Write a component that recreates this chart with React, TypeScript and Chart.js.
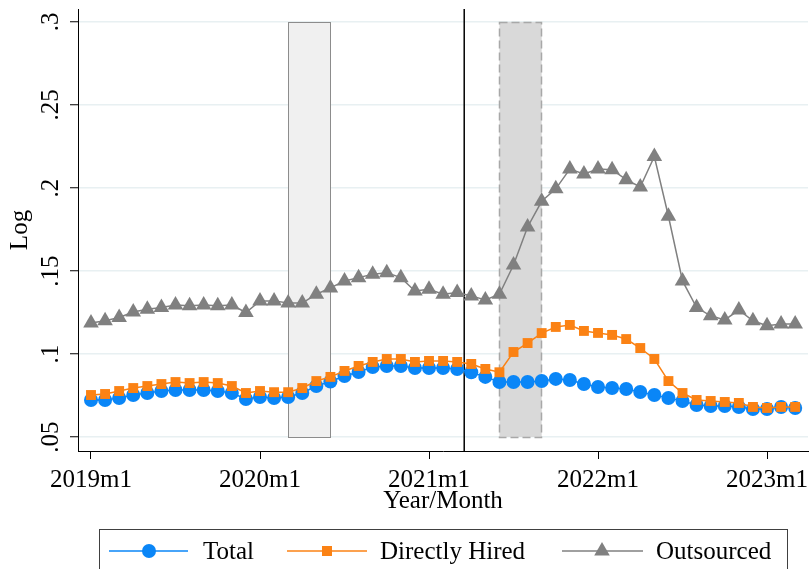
import React, { useEffect, useRef } from 'react';
import { Chart, registerables } from 'chart.js';

Chart.register(...registerables);

// Months 2019m1 .. 2023m3
const months = [
  '2019m1', '2019m2', '2019m3', '2019m4', '2019m5', '2019m6', '2019m7', '2019m8', '2019m9', '2019m10', '2019m11', '2019m12',
  '2020m1', '2020m2', '2020m3', '2020m4', '2020m5', '2020m6', '2020m7', '2020m8', '2020m9', '2020m10', '2020m11', '2020m12',
  '2021m1', '2021m2', '2021m3', '2021m4', '2021m5', '2021m6', '2021m7', '2021m8', '2021m9', '2021m10', '2021m11', '2021m12',
  '2022m1', '2022m2', '2022m3', '2022m4', '2022m5', '2022m6', '2022m7', '2022m8', '2022m9', '2022m10', '2022m11', '2022m12',
  '2023m1', '2023m2', '2023m3',
];

const total = [
  0.0723, 0.0723, 0.0735, 0.0753, 0.0765, 0.0777, 0.0783, 0.0783, 0.0783, 0.0777, 0.0765, 0.0729,
  0.0741, 0.0735, 0.0741, 0.0765, 0.0807, 0.0834, 0.0867, 0.0892, 0.0922, 0.0928, 0.0928, 0.0916,
  0.0916, 0.0916, 0.091, 0.089, 0.0862, 0.0831, 0.0831, 0.0831, 0.0837, 0.085, 0.0843, 0.0819,
  0.0801, 0.0795, 0.0789, 0.0771, 0.0753, 0.0735, 0.0717, 0.0693, 0.0687, 0.0687, 0.0681, 0.0669,
  0.0669, 0.0681, 0.0675,
];

const directlyHired = [
  0.0753, 0.0759, 0.0777, 0.0795, 0.0807, 0.0819, 0.0831, 0.0825, 0.0831, 0.0825, 0.0807, 0.0765,
  0.0777, 0.077, 0.077, 0.0795, 0.0837, 0.0862, 0.0898, 0.0928, 0.0952, 0.097, 0.097, 0.0952,
  0.0958, 0.0958, 0.0952, 0.094, 0.091, 0.089, 0.1012, 0.1066, 0.1126, 0.1163, 0.1175, 0.1139,
  0.1127, 0.1115, 0.109, 0.1036, 0.097, 0.0837, 0.0765, 0.0723, 0.0717, 0.0711, 0.0705, 0.0681,
  0.0675, 0.0681, 0.0681,
];

const outsourced = [
  0.1187, 0.12, 0.122, 0.1253, 0.127, 0.128, 0.1295, 0.129, 0.1295, 0.129, 0.1295, 0.125,
  0.132, 0.132, 0.1307, 0.1307, 0.136, 0.1398, 0.144, 0.146, 0.148, 0.149, 0.146, 0.138,
  0.139, 0.136, 0.137, 0.135, 0.1325, 0.136, 0.1536, 0.1765, 0.192, 0.1995, 0.2114, 0.2084,
  0.2114, 0.211, 0.205, 0.2006, 0.219, 0.183, 0.144, 0.128, 0.123, 0.1205, 0.1265, 0.12,
  0.117, 0.118, 0.118,
];

const xTickLabels = ['2019m1', '2020m1', '2021m1', '2022m1', '2023m1'];
const yTickValues = [0.05, 0.1, 0.15, 0.2, 0.25, 0.3];
const yTickLabels = ['.05', '.1', '.15', '.2', '.25', '.3'];

const lightBand = ['2020m3', '2020m6'];
const darkBand = ['2021m6', '2021m9'];
const bandRange = [0.05, 0.3];
const eventAfter = '2021m3'; // vertical line halfway between 2021m3 and 2021m4

const seriesNames = ['Total', 'Directly Hired', 'Outsourced'];
const BLUE = '#0a86f7';
const ORANGE = '#fb8214';
const GREY = '#808080';
const FONT = '"Liberation Serif", "Times New Roman", serif';

const idx = (m: string) => months.indexOf(m);

const drawMarker = (ctx: CanvasRenderingContext2D, kind: string, x: number, y: number, color: string) => {
  ctx.fillStyle = color;
  ctx.beginPath();
  if (kind === 'circle') {
    ctx.arc(x, y, 7, 0, Math.PI * 2);
  } else if (kind === 'rect') {
    ctx.rect(x - 5, y - 5, 10, 10);
  } else {
    const r = 9;
    for (let k = 0; k < 3; k++) {
      const a = (k * 2 * Math.PI) / 3;
      const px = x + Math.sin(a) * r;
      const py = y - Math.cos(a) * r;
      if (k === 0) ctx.moveTo(px, py);
      else ctx.lineTo(px, py);
    }
    ctx.closePath();
  }
  ctx.fill();
};

const overlayPlugin = {
  id: 'overlay',
  beforeDatasetsDraw(chart: any) {
    const { ctx, chartArea } = chart;
    const x = chart.scales.x;
    const y = chart.scales.y;
    const yTop = y.getPixelForValue(bandRange[1]);
    const yBot = y.getPixelForValue(bandRange[0]);
    ctx.save();
    // light band
    let x1 = x.getPixelForValue(idx(lightBand[0]));
    let x2 = x.getPixelForValue(idx(lightBand[1]));
    ctx.fillStyle = '#f0f0f0';
    ctx.fillRect(x1, yTop, x2 - x1, yBot - yTop);
    ctx.strokeStyle = '#8c8c8c';
    ctx.lineWidth = 1;
    ctx.strokeRect(Math.round(x1) + 0.5, Math.round(yTop) + 0.5, Math.round(x2 - x1), Math.round(yBot - yTop));
    // dark band
    x1 = x.getPixelForValue(idx(darkBand[0]));
    x2 = x.getPixelForValue(idx(darkBand[1]));
    ctx.fillStyle = '#d9d9d9';
    ctx.fillRect(x1, yTop, x2 - x1, yBot - yTop);
    ctx.strokeStyle = '#a8a8a8';
    ctx.lineWidth = 1.5;
    ctx.setLineDash([8, 4]);
    ctx.strokeRect(Math.round(x1) + 0.5, Math.round(yTop) + 0.5, Math.round(x2 - x1), Math.round(yBot - yTop));
    ctx.setLineDash([]);
    // vertical event line
    const xv = x.getPixelForValue(idx(eventAfter) + 0.5);
    ctx.strokeStyle = '#000';
    ctx.lineWidth = 1.5;
    ctx.beginPath();
    ctx.moveTo(xv, chartArea.top);
    ctx.lineTo(xv, chartArea.bottom);
    ctx.stroke();
    ctx.restore();
  },
  afterDraw(chart: any) {
    const { ctx } = chart;
    const y = chart.scales.y;
    ctx.save();
    // rotated y tick labels
    ctx.fillStyle = '#000';
    ctx.font = `25px ${FONT}`;
    ctx.textAlign = 'center';
    ctx.textBaseline = 'alphabetic';
    yTickValues.forEach((v, i) => {
      const py = y.getPixelForValue(v);
      ctx.save();
      ctx.translate(58, py);
      ctx.rotate(-Math.PI / 2);
      ctx.fillText(yTickLabels[i], 0, 0);
      ctx.restore();
    });
    // legend
    ctx.strokeStyle = '#404040';
    ctx.lineWidth = 1;
    ctx.strokeRect(99.5, 529.5, 688, 60);
    const ly = 551;
    const items = [
      { name: seriesNames[0], color: BLUE, kind: 'circle', l0: 109, l1: 188, m: 149, tx: 203 },
      { name: seriesNames[1], color: ORANGE, kind: 'rect', l0: 287, l1: 367, m: 327, tx: 380 },
      { name: seriesNames[2], color: GREY, kind: 'triangle', l0: 562, l1: 643, m: 602, tx: 656 },
    ];
    items.forEach((it) => {
      ctx.strokeStyle = it.color;
      ctx.lineWidth = 1.5;
      ctx.beginPath();
      ctx.moveTo(it.l0, ly);
      ctx.lineTo(it.l1, ly);
      ctx.stroke();
      drawMarker(ctx, it.kind, it.m, ly, it.color);
      ctx.fillStyle = '#000';
      ctx.textAlign = 'left';
      ctx.textBaseline = 'alphabetic';
      ctx.fillText(it.name, it.tx, 559);
    });
    ctx.restore();
  },
};

export default function App() {
  const canvasRef = useRef<HTMLCanvasElement | null>(null);

  useEffect(() => {
    if (!canvasRef.current) return;
    const mk = (vals: number[]) => vals.map((v, i) => ({ x: i, y: v }));
    const chart = new Chart(canvasRef.current, {
      type: 'line',
      data: {
        datasets: [
          {
            label: seriesNames[0],
            data: mk(total),
            borderColor: BLUE,
            backgroundColor: BLUE,
            pointBackgroundColor: BLUE,
            pointBorderWidth: 0,
            pointStyle: 'circle',
            pointRadius: 7,
            borderWidth: 1.5,
            order: 3,
          },
          {
            label: seriesNames[1],
            data: mk(directlyHired),
            borderColor: ORANGE,
            backgroundColor: ORANGE,
            pointBackgroundColor: ORANGE,
            pointBorderWidth: 0,
            pointStyle: 'rect',
            pointRadius: 7,
            borderWidth: 1.5,
            order: 2,
          },
          {
            label: seriesNames[2],
            data: mk(outsourced),
            borderColor: GREY,
            backgroundColor: GREY,
            pointBackgroundColor: GREY,
            pointBorderWidth: 0,
            pointStyle: 'triangle',
            pointRadius: 9,
            borderWidth: 1.5,
            order: 1,
          },
        ],
      },
      options: {
        animation: false,
        responsive: false,
        devicePixelRatio: 1,
        layout: { autoPadding: false, padding: { left: 0, right: 1, top: 9, bottom: 53 } },
        plugins: {
          legend: { display: false },
          tooltip: { enabled: false },
        },
        scales: {
          x: {
            type: 'linear',
            min: -0.923,
            max: 50.91,
            afterBuildTicks: (scale: any) => {
              scale.ticks = xTickLabels.map((l) => ({ value: idx(l) }));
            },
            afterFit: (scale: any) => {
              scale.height = 65;
              scale.paddingLeft = 0;
              scale.paddingRight = 0;
            },
            ticks: {
              autoSkip: false,
              maxRotation: 0,
              minRotation: 0,
              padding: 6,
              color: '#000',
              font: { family: FONT, size: 25 },
              callback: (value: any) => {
                const m = months[Math.round(Number(value))];
                return xTickLabels.includes(m) ? m : '';
              },
            },
            grid: {
              display: true,
              drawOnChartArea: false,
              drawTicks: true,
              tickLength: 8,
              tickColor: '#000',
              tickWidth: 1,
            },
            border: { display: true, color: '#000', width: 1 },
            title: {
              display: true,
              text: 'Year/Month',
              color: '#000',
              font: { family: FONT, size: 25 },
              padding: { top: 0, bottom: 0 },
            },
          },
          y: {
            type: 'linear',
            min: 0.04157,
            max: 0.30783,
            afterBuildTicks: (scale: any) => {
              scale.ticks = yTickValues.map((v) => ({ value: v }));
            },
            afterFit: (scale: any) => {
              scale.width = 78;
            },
            ticks: { display: false },
            grid: {
              display: true,
              drawOnChartArea: true,
              drawTicks: true,
              tickLength: 8,
              color: '#e8f0f2',
              tickColor: '#000',
              lineWidth: 1.5,
              tickWidth: 1,
            },
            border: { display: true, color: '#000', width: 1 },
            title: {
              display: true,
              text: 'Log',
              color: '#000',
              font: { family: FONT, size: 25 },
              padding: { top: 5, bottom: 0 },
            },
          },
        },
      },
      plugins: [overlayPlugin],
    } as any);
    return () => chart.destroy();
  }, []);

  return (
    <div style={{ position: 'fixed', left: 0, top: 0, width: 809, height: 569, background: '#fff' }}>
      <canvas ref={canvasRef} width={809} height={569} style={{ width: 809, height: 569, display: 'block' }} />
    </div>
  );
}
